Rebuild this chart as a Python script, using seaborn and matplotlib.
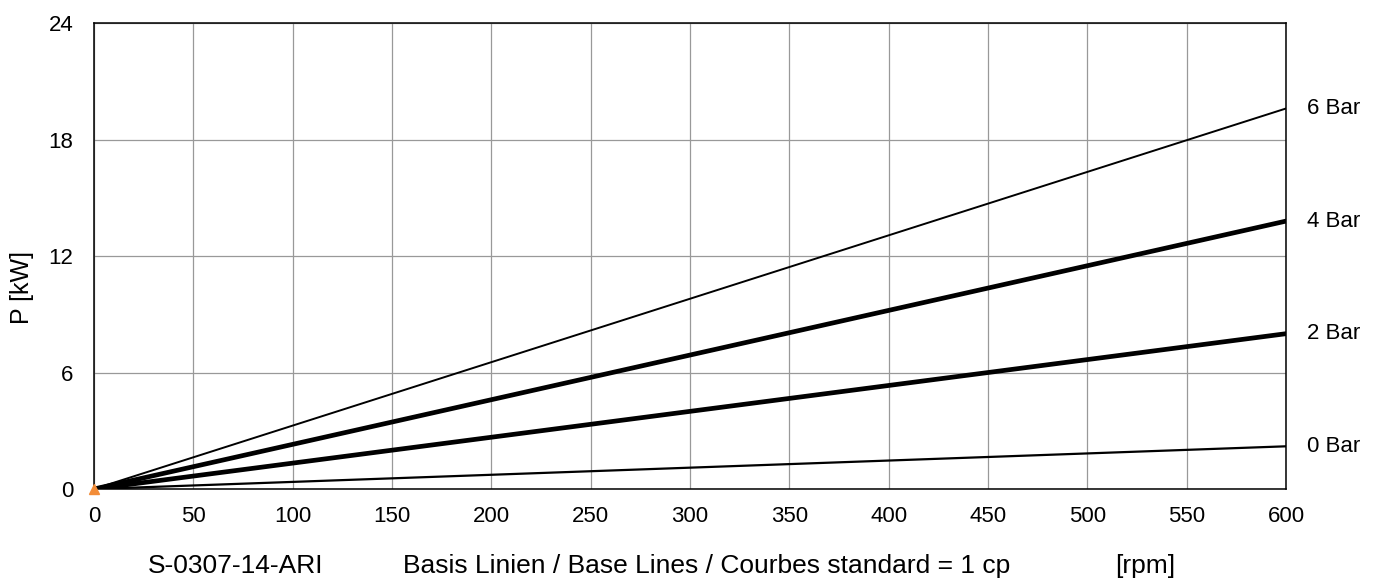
import pandas as pd
import seaborn as sns
from matplotlib import pyplot as plt


RPM = [0, 600]
PRESSURES = ["0 Bar", "2 Bar", "4 Bar", "6 Bar"]
POWER_0 = [0, 2.2]
POWER_2 = [0, 8.0]
POWER_4 = [0, 13.8]
POWER_6 = [0, 19.6]
X_TICKS = list(range(0, 601, 50))
Y_TICKS = [0, 6, 12, 18, 24]

WIDTHS = {"0 Bar": 1.6, "2 Bar": 3.4, "4 Bar": 3.4, "6 Bar": 1.4}


def main():
    rows = []
    for name, vals in zip(PRESSURES, [POWER_0, POWER_2, POWER_4, POWER_6]):
        for x, y in zip(RPM, vals):
            rows.append({"rpm": x, "power": y, "pressure": name})
    df = pd.DataFrame(rows)

    sns.set_theme(style="white")
    plt.rcParams["font.family"] = ["Liberation Sans", "DejaVu Sans"]
    plt.rcParams["text.color"] = "black"
    fig = plt.figure(figsize=(13.82, 5.83), dpi=100)
    ax = fig.add_axes([0.068, 0.1612, 0.8626, 0.7993])

    for name in PRESSURES:
        sub = df[df["pressure"] == name]
        sns.lineplot(sub, x="rpm", y="power", color="black",
                     linewidth=WIDTHS[name], ax=ax, legend=False)
        end = sub["power"].iloc[-1]
        ax.annotate(name, xy=(600, end), xytext=(15, 0), textcoords="offset points",
                    va="center", ha="left", fontsize=16, color="black")

    ax.plot([0], [0], marker="^", color="#f28c38", markersize=7, clip_on=False, zorder=5)

    ax.set_xlim(0, 600)
    ax.set_ylim(0, 24)
    ax.set_xticks(X_TICKS)
    ax.set_yticks(Y_TICKS)
    ax.grid(True, color="#999999", linewidth=0.9)
    ax.tick_params(axis="both", direction="out", length=6, width=0.9,
                   color="#999999", labelsize=16, labelcolor="black")
    ax.tick_params(axis="y", pad=9)
    ax.tick_params(axis="x", pad=6)
    for sp in ax.spines.values():
        sp.set_color("black")
        sp.set_linewidth(1.1)
    ax.set_xlabel("")
    ax.set_ylabel("P [kW]", fontsize=18, color="black", va="center")
    ax.yaxis.set_label_coords(-0.06, 0.433)

    y_txt = 1 - 566 / 583
    fig.text(148 / 1382, y_txt, "S-0307-14-ARI", fontsize=19, va="center", color="black")
    fig.text(403 / 1382, y_txt, "Basis Linien / Base Lines / Courbes standard = 1 cp",
             fontsize=19, va="center", color="black")
    fig.text(1115 / 1382, y_txt, "[rpm]", fontsize=19, va="center", color="black")

    fig.savefig("out.png", dpi=100)
    plt.close(fig)


if __name__ == "__main__":
    main()
